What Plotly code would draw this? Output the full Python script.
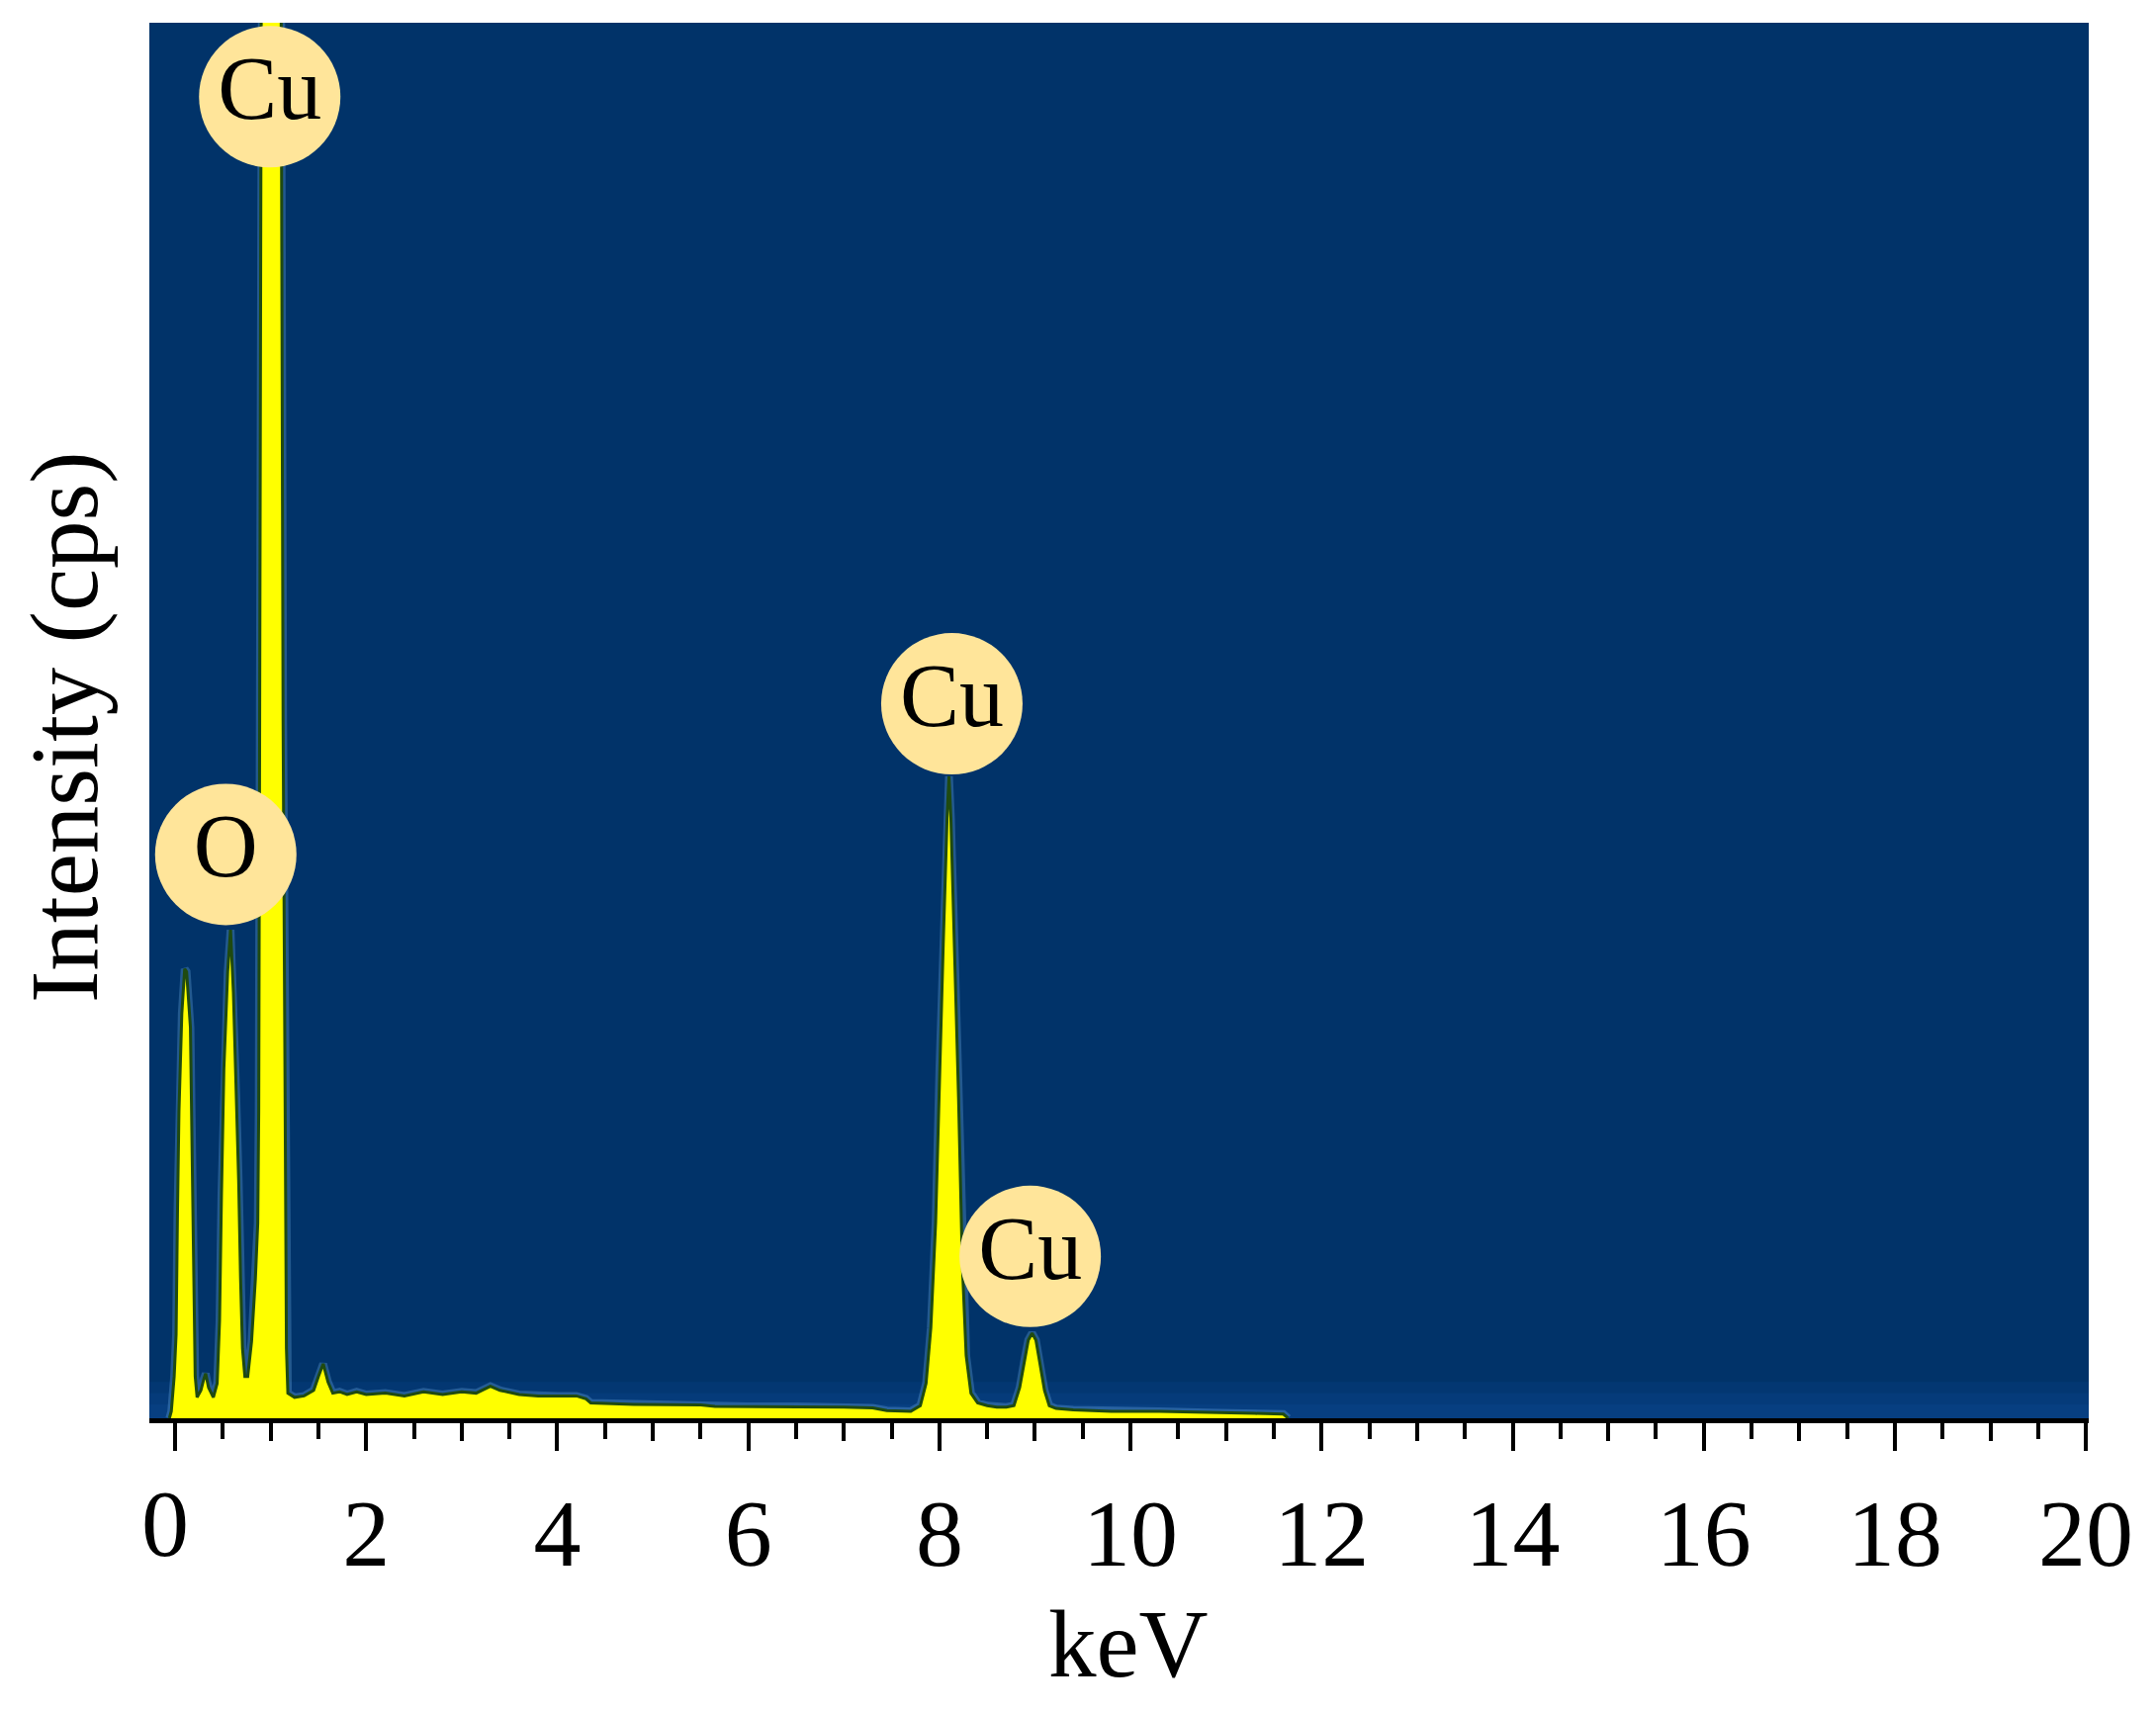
import plotly.graph_objects as go

# ---- data ----
energy_keV = [
    -0.06, -0.04, -0.01, 0.01, 0.025, 0.04, 0.07, 0.10, 0.12, 0.16, 0.18, 0.195,
    0.21, 0.23, 0.27, 0.30, 0.32, 0.35, 0.40, 0.44, 0.465, 0.485, 0.51, 0.55,
    0.58, 0.61, 0.64, 0.665, 0.685, 0.705, 0.73, 0.76, 0.80, 0.84, 0.865, 0.875,
    0.885, 0.90, 0.93, 0.97, 1.01, 1.05, 1.08, 1.11, 1.13, 1.15, 1.165, 1.18,
    1.25, 1.35, 1.45, 1.50, 1.55, 1.60, 1.65, 1.72, 1.80, 1.90, 2.00, 2.20,
    2.40, 2.60, 2.80, 3.00, 3.15, 3.30, 3.40, 3.60, 3.80, 4.00, 4.20, 4.30,
    4.35, 4.80, 5.20, 5.50, 5.65, 6.00, 6.50, 7.00, 7.30, 7.45, 7.70, 7.80,
    7.86, 7.91, 7.96, 8.00, 8.04, 8.08, 8.10, 8.12, 8.16, 8.20, 8.24, 8.28,
    8.33, 8.40, 8.50, 8.60, 8.70, 8.78, 8.84, 8.89, 8.93, 8.97, 9.01, 9.05,
    9.10, 9.15, 9.22, 9.40, 9.80, 10.3, 10.8, 11.3, 11.6, 11.65,
]
intensity = [
    0.0, 0.5, 3.0, 6.0, 15.0, 22.0, 29.0, 32.2, 32.0, 28.0, 18.0, 8.0,
    3.0, 1.5, 2.0, 2.8, 3.2, 2.2, 1.5, 2.5, 7.0, 16.0, 25.0, 32.0,
    35.0, 30.5, 23.0, 17.0, 10.0, 5.0, 3.0, 3.0, 5.5, 10.0, 14.0, 22.0,
    50.0, 100.0, 190.0, 250.0, 250.0, 200.0, 150.0, 100.0, 50.0, 18.0, 5.0, 1.8,
    1.5, 1.6, 2.0, 3.0, 3.9, 2.6, 1.8, 1.9, 1.7, 1.9, 1.7, 1.8,
    1.6, 1.9, 1.7, 1.9, 1.8, 2.3, 2.0, 1.7, 1.6, 1.6, 1.6, 1.4,
    1.1, 1.0, 1.0, 0.95, 0.85, 0.85, 0.85, 0.8, 0.75, 0.55, 0.5, 0.9,
    2.5, 6.5, 14.0, 25.0, 34.0, 43.0, 46.0, 43.0, 33.0, 23.0, 11.0, 4.5,
    1.8, 1.1, 0.9, 0.8, 0.8, 0.9, 2.2, 4.2, 5.6, 6.1, 5.6, 4.0,
    2.0, 0.9, 0.7, 0.6, 0.5, 0.5, 0.4, 0.35, 0.3, 0.0,
]

label_text = ["Cu", "O", "Cu", "Cu"]
label_x = [0.99, 0.53, 8.13, 8.95]
label_y = [94.7, 40.4, 51.2, 11.6]

tick_values = [0, 2, 4, 6, 8, 10, 12, 14, 16, 18, 20]
tick_text = ["" if v == 0 else str(v) for v in tick_values]
zero_label = "0"

x_title = "keV"
y_title = "Intensity (cps)"

FONT = "Liberation Serif, Times New Roman, serif"
NAVY = "#013369"

fig = go.Figure()

# soft light-blue halo around the spectrum outline
fig.add_trace(go.Scatter(
    x=energy_keV, y=intensity, mode="lines",
    line=dict(color="rgba(140,205,255,0.25)", width=8),
    hoverinfo="skip", showlegend=False,
))

fig.add_trace(go.Scatter(
    x=energy_keV, y=intensity, mode="lines", fill="tozeroy",
    fillcolor="#FFFF00", line=dict(color="#1F4A10", width=3),
    hoverinfo="skip", showlegend=False,
))

fig.add_trace(go.Scatter(
    x=label_x, y=label_y, mode="markers+text", text=label_text,
    textposition="middle center",
    textfont=dict(family=FONT, size=90, color="black"),
    marker=dict(size=143, color="#FFE59A", line=dict(width=0)),
    cliponaxis=False, hoverinfo="skip", showlegend=False,
))

# helper invisible trace for the 1-keV tick axis
fig.add_trace(go.Scatter(x=[0], y=[0], xaxis="x2", mode="markers",
                         marker=dict(opacity=0), hoverinfo="skip",
                         showlegend=False))

xr = [-0.27, 20.03]
band = [dict(type="rect", xref="paper", yref="paper", x0=0, x1=1,
             y0=0, y1=h, fillcolor="rgba(30,100,200,0.10)",
             line=dict(width=0), layer="below")
        for h in (0.010, 0.018, 0.026)]

fig.update_layout(
    width=2180, height=1732,
    margin=dict(l=143, r=76, t=15, b=306),
    paper_bgcolor="white", plot_bgcolor=NAVY,
    xaxis=dict(
        range=xr, tickmode="array", tickvals=tick_values, ticktext=tick_text,
        ticks="outside", ticklen=28, tickwidth=4, tickcolor="black",
        showline=True, linecolor="black", linewidth=5,
        showgrid=False, zeroline=False,
        tickfont=dict(family=FONT, size=96, color="black"),
        ticklabelstandoff=1,
        minor=dict(dtick=0.5, tick0=0, ticks="outside", ticklen=16,
                   tickwidth=3.5, tickcolor="black", showgrid=False),
    ),
    xaxis2=dict(
        range=xr, overlaying="x", anchor="y", side="bottom",
        tickmode="linear", tick0=0, dtick=1, ticks="outside", ticklen=22,
        tickwidth=3.5, tickcolor="black", showticklabels=False,
        showgrid=False, zeroline=False, showline=False,
    ),
    yaxis=dict(range=[0, 100], showticklabels=False, ticks="",
               showgrid=False, zeroline=False, showline=False),
    annotations=[
        dict(text=zero_label, xref="x", yref="paper", x=0, y=-0.0758,
             xshift=-10, xanchor="center", yanchor="middle", showarrow=False,
             font=dict(family=FONT, size=96, color="black")),
        dict(text=x_title, xref="paper", yref="paper", x=0.505, y=-0.1616,
             xanchor="center", yanchor="middle", showarrow=False,
             font=dict(family=FONT, size=97, color="black")),
        dict(text=y_title, xref="paper", yref="paper", x=-0.0433, y=0.4954,
             xanchor="center", yanchor="middle", textangle=-90,
             showarrow=False,
             font=dict(family=FONT, size=97, color="black")),
    ],
    shapes=band,
)

fig.write_html("out.html")
